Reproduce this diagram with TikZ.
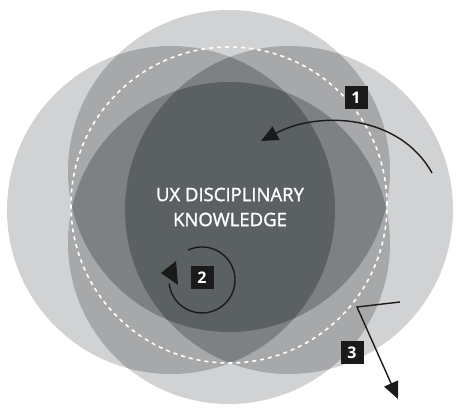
\documentclass[tikz,border=0pt]{standalone}
\usepackage{fontspec}
\setmainfont{Open Sans}
\newfontfamily\titlefont[FakeBold=1.6]{Open Sans}
\usetikzlibrary{arrows.meta}
\definecolor{cone}{HTML}{D1D2D4}
\definecolor{ctwo}{HTML}{A6A8AA}
\definecolor{cthree}{HTML}{7E8184}
\definecolor{cfour}{HTML}{5B6063}
\definecolor{ink}{HTML}{1A1A1A}
\tikzset{
  badge/.style={fill=ink, text=white, minimum size=23pt, inner sep=0pt, font=\bfseries\fontsize{16}{16}\selectfont},
  flow/.style={draw=ink, line width=1.4pt, -{Triangle[length=17pt,width=15pt]}},
  dashring/.style={draw=white, line width=1.6pt, dash pattern=on 4pt off 4pt},
}
\begin{document}
\begin{tikzpicture}[x=1pt,y=-1pt]
\useasboundingbox (0,0) rectangle (459,412);
\coordinate (T) at (229,171);
\coordinate (B) at (229,243);
\coordinate (L) at (171,210);
\coordinate (R) at (289,210);
% level 1
\fill[cone] (T) circle[radius=161pt];
\fill[cone] (B) circle[radius=161pt];
\fill[cone] (L) circle[radius=164pt];
\fill[cone] (R) circle[radius=164pt];
% level 2
\begin{scope}\clip (T) circle[radius=161pt];
  \fill[ctwo] (B) circle[radius=161pt];
  \fill[ctwo] (L) circle[radius=164pt];
  \fill[ctwo] (R) circle[radius=164pt];
\end{scope}
\begin{scope}\clip (B) circle[radius=161pt];
  \fill[ctwo] (L) circle[radius=164pt];
  \fill[ctwo] (R) circle[radius=164pt];
\end{scope}
\begin{scope}\clip (L) circle[radius=164pt];
  \fill[ctwo] (R) circle[radius=164pt];
\end{scope}
% level 3
\begin{scope}\clip (T) circle[radius=161pt];
  \begin{scope}\clip (B) circle[radius=161pt];
    \fill[cthree] (L) circle[radius=164pt];
    \fill[cthree] (R) circle[radius=164pt];
  \end{scope}
  \begin{scope}\clip (L) circle[radius=164pt];
    \fill[cthree] (R) circle[radius=164pt];
  \end{scope}
\end{scope}
\begin{scope}\clip (B) circle[radius=161pt];
  \clip (L) circle[radius=164pt];
  \fill[cthree] (R) circle[radius=164pt];
\end{scope}
% level 4
\begin{scope}\clip (T) circle[radius=161pt];
  \clip (B) circle[radius=161pt];
  \clip (L) circle[radius=164pt];
  \fill[cfour] (R) circle[radius=164pt];
\end{scope}
% dashed ring
\coordinate (ring) at (229,205);
\draw[dashring] (ring) circle[radius=158pt];
% title
\node[text=white, align=center, font=\titlefont\fontsize{18.5}{25}\selectfont] (title) at (230,207) {UX DISCIPLINARY\\KNOWLEDGE};
% badges
\node[badge] (b1) at (356,98) {1};
\node[badge] (b2) at (202,278) {2};
\node[badge] (b3) at (352,353) {3};
% arrow 1
\coordinate (a1s) at (432,173);
\coordinate (a1e) at (261,141);
\draw[flow] (a1s) .. controls (400,115) and (320,110) .. (a1e);
% arrow 2
\coordinate (c2) at (202,280);
\draw[draw=ink, line width=1.4pt] (c2) ++(115:33pt) arc[start angle=115, end angle=-174, radius=33pt];
\fill[ink] (161,273) -- (176,261) -- (178,285) -- cycle;
% arrow 3
\coordinate (a3s) at (400,302);
\coordinate (a3k) at (357,307);
\coordinate (a3e) at (398,399);
\draw[flow] (a3s) -- (a3k) -- (a3e);
\end{tikzpicture}
\end{document}
